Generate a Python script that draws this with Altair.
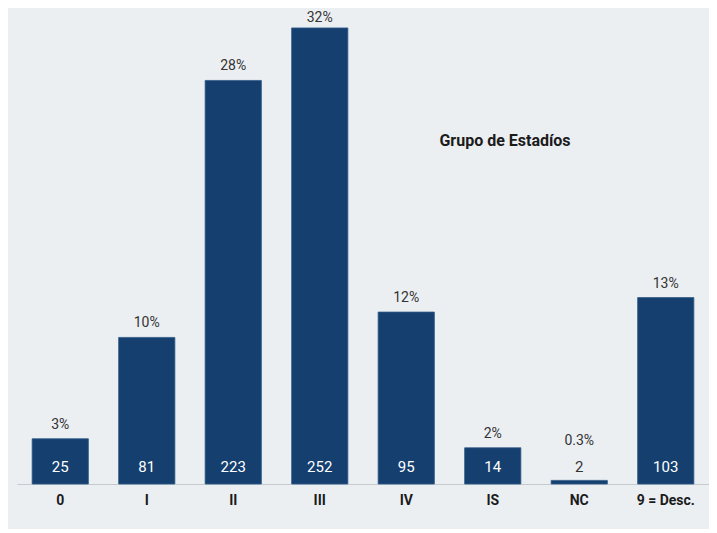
import altair as alt
import pandas as pd

categories = ["0", "I", "II", "III", "IV", "IS", "NC", "9 = Desc."]
counts = [25, 81, 223, 252, 95, 14, 2, 103]
bar_heights = [25, 81, 223, 252, 95, 20, 2, 103]
percents = ["3%", "10%", "28%", "32%", "12%", "2%", "0.3%", "13%"]

df = pd.DataFrame({
    "cat": categories,
    "count": [str(c) for c in counts],
    "h": bar_heights,
    "pct": percents,
})
df["pct_y"] = df["h"].clip(lower=16, upper=250)
df["dark"] = df["h"] < 8

xenc = alt.X("cat:N", sort=categories, title=None,
             scale=alt.Scale(paddingInner=0.35, paddingOuter=0.175),
             axis=alt.Axis(labelAngle=0, ticks=False, domainColor="#c5cacf",
                           labelFont="Roboto", labelFontSize=14, labelFontWeight="bold",
                           labelColor="#1b1b1b", labelPadding=9))
yscale = alt.Scale(domain=[0, 258.6], nice=False)

base = alt.Chart(df)

bars = base.mark_bar(color="#153f6f", stroke="#2f5a88", strokeWidth=0.8).encode(
    x=xenc,
    y=alt.Y("h:Q", scale=yscale, axis=None),
)

pct_text = base.mark_text(baseline="bottom", dy=-7, font="Roboto", fontSize=14,
                          color="#333333").encode(
    x=alt.X("cat:N", sort=categories),
    y=alt.Y("pct_y:Q", scale=yscale),
    text="pct:N",
)

count_text = base.mark_text(baseline="bottom", dy=-9, font="Roboto", fontSize=15).encode(
    x=alt.X("cat:N", sort=categories),
    y=alt.Y("zero:Q", scale=yscale),
    text="count:N",
    color=alt.condition(alt.datum.dark, alt.value("#333333"), alt.value("#ffffff")),
).transform_calculate(zero="0")

title_text = alt.Chart(pd.DataFrame({"t": ["Grupo de Estadíos"]})).mark_text(
    font="Roboto", fontSize=16, fontWeight="bold", color="#1b1b1b",
    align="center", baseline="middle",
).encode(x=alt.value(488), y=alt.value(125), text="t:N")

chart = alt.layer(bars, pct_text, count_text, title_text).properties(
    width=692, height=468,
    autosize=alt.AutoSizeParams(type="none"),
    padding={"left": 9, "top": 8, "right": 0, "bottom": 45},
).configure(background="#eceff2").configure_view(stroke=None)

chart.save("out.html", embed_options={"renderer": "svg", "actions": False})
